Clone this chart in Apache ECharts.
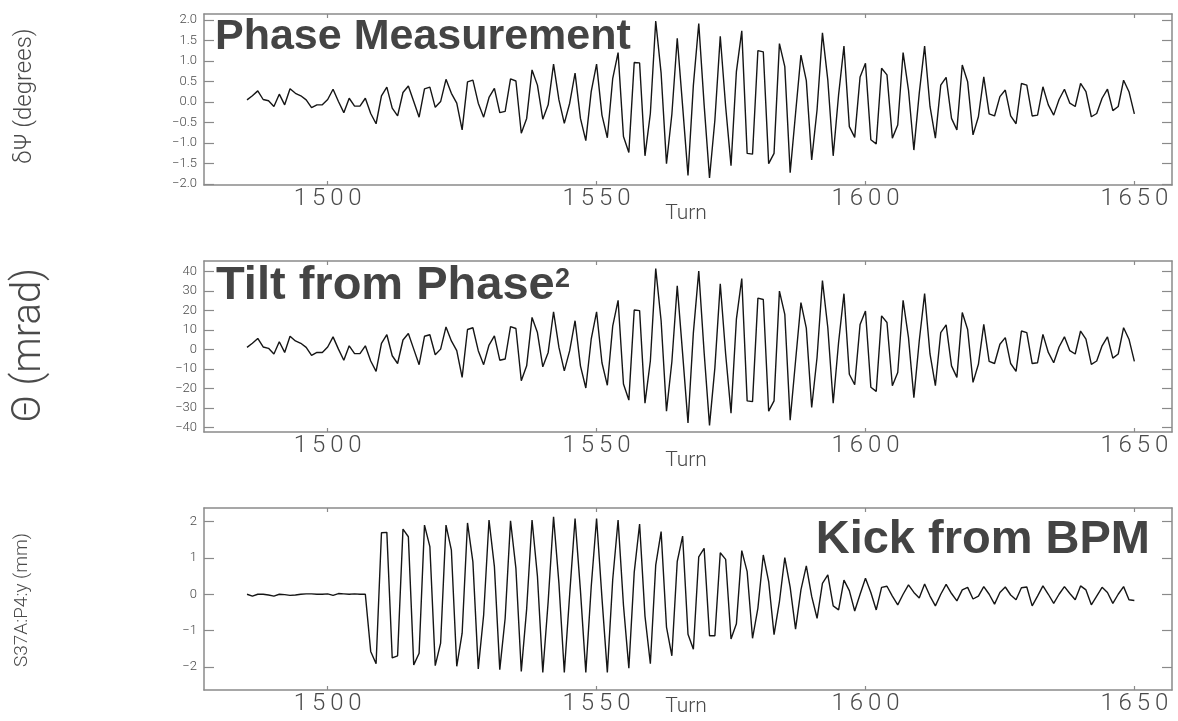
<!DOCTYPE html>
<html>
<head>
<meta charset="utf-8">
<script src="https://cdn.jsdelivr.net/npm/echarts@6/dist/echarts.min.js"></script>
<style>
html,body{margin:0;padding:0;background:#fff;}
#c{width:1178px;height:721px;}
</style>
</head>
<body>
<div id="c"></div>
<script>
const turns = [
1485,1486,1487,1488,1489,1490,1491,1492,1493,1494,
1495,1496,1497,1498,1499,1500,1501,1502,1503,1504,
1505,1506,1507,1508,1509,1510,1511,1512,1513,1514,
1515,1516,1517,1518,1519,1520,1521,1522,1523,1524,
1525,1526,1527,1528,1529,1530,1531,1532,1533,1534,
1535,1536,1537,1538,1539,1540,1541,1542,1543,1544,
1545,1546,1547,1548,1549,1550,1551,1552,1553,1554,
1555,1556,1557,1558,1559,1560,1561,1562,1563,1564,
1565,1566,1567,1568,1569,1570,1571,1572,1573,1574,
1575,1576,1577,1578,1579,1580,1581,1582,1583,1584,
1585,1586,1587,1588,1589,1590,1591,1592,1593,1594,
1595,1596,1597,1598,1599,1600,1601,1602,1603,1604,
1605,1606,1607,1608,1609,1610,1611,1612,1613,1614,
1615,1616,1617,1618,1619,1620,1621,1622,1623,1624,
1625,1626,1627,1628,1629,1630,1631,1632,1633,1634,
1635,1636,1637,1638,1639,1640,1641,1642,1643,1644,
1645,1646,1647,1648,1649,1650];

const phaseDeg = [
0.05,0.15,0.27,0.06,0.03,-0.11,0.19,-0.07,0.32,0.21,
0.15,0.05,-0.14,-0.07,-0.07,0.06,0.31,0.01,-0.26,0.09,
-0.10,-0.10,0.09,-0.28,-0.53,0.15,0.36,-0.15,-0.34,0.23,
0.39,0.01,-0.37,0.32,0.36,-0.13,0.01,0.55,0.21,-0.03,
-0.68,0.49,0.53,-0.03,-0.37,0.11,0.33,-0.26,-0.23,0.56,
0.51,-0.76,-0.40,0.78,0.41,-0.42,-0.07,0.92,0.05,-0.52,
-0.03,0.70,-0.40,-0.94,0.25,0.92,-0.32,-0.87,0.57,1.20,
-0.84,-1.23,0.96,0.95,-1.31,-0.28,1.97,0.70,-1.50,-0.30,
1.55,-0.10,-1.79,0.41,1.91,-0.07,-1.85,-0.44,1.60,-0.11,
-1.55,0.74,1.73,-1.25,-1.27,1.25,1.22,-1.50,-1.25,1.42,
0.86,-1.72,-0.28,1.14,0.52,-1.41,-0.19,1.68,0.53,-1.31,
0.17,1.36,-0.60,-0.86,0.61,0.94,-0.92,-1.02,0.82,0.66,
-0.88,-0.56,1.20,0.29,-1.17,0.21,1.36,-0.11,-0.88,0.41,
0.60,-0.40,-0.68,0.90,0.49,-0.80,-0.36,0.61,-0.29,-0.34,
0.13,0.29,-0.34,-0.53,0.45,0.41,-0.34,-0.32,0.37,-0.07,
-0.32,0.06,0.31,-0.03,-0.11,0.45,0.25,-0.36,-0.28,0.09,
0.31,-0.21,-0.11,0.53,0.25,-0.29];

const tiltMrad = [
1.1,3.2,5.7,1.3,0.6,-2.3,4.0,-1.5,6.8,4.4,
3.2,1.1,-3.0,-1.5,-1.5,1.3,6.5,0.2,-5.5,1.9,
-2.1,-2.1,1.9,-5.9,-11.2,3.2,7.6,-3.2,-7.2,4.9,
8.2,0.2,-7.8,6.8,7.6,-2.7,0.2,11.6,4.4,-0.6,
-14.3,10.3,11.2,-0.6,-7.8,2.3,7.0,-5.5,-4.9,11.8,
10.8,-16.0,-8.4,16.5,8.7,-8.9,-1.5,19.4,1.1,-11.0,
-0.6,14.8,-8.4,-19.8,5.3,19.4,-6.8,-18.4,12.0,25.3,
-17.7,-26.0,20.3,20.0,-27.6,-5.9,41.6,14.8,-31.7,-6.3,
32.7,-2.1,-37.8,8.7,40.3,-1.5,-39.0,-9.3,33.8,-2.3,
-32.7,15.6,36.5,-26.4,-26.8,26.4,25.7,-31.7,-26.4,30.0,
18.1,-36.3,-5.9,24.1,11.0,-29.8,-4.0,35.4,11.2,-27.6,
3.6,28.7,-12.7,-18.1,12.9,19.8,-19.4,-21.5,17.3,13.9,
-18.6,-11.8,25.3,6.1,-24.7,4.4,28.7,-2.3,-18.6,8.7,
12.7,-8.4,-14.3,19.0,10.3,-16.9,-7.6,12.9,-6.1,-7.2,
2.7,6.1,-7.2,-11.2,9.5,8.7,-7.2,-6.8,7.8,-1.5,
-6.8,1.3,6.5,-0.6,-2.3,9.5,5.3,-7.6,-5.9,1.9,
6.5,-4.4,-2.3,11.2,5.3,-6.1];

const kickMm = [
0.00,-0.05,0.00,0.00,-0.02,-0.05,0.00,-0.01,-0.03,-0.02,
0.00,0.01,0.01,0.00,0.00,0.01,-0.03,0.02,0.01,0.00,
0.01,0.00,0.00,-1.57,-1.91,1.69,1.70,-1.75,-1.69,1.79,
1.58,-1.94,-1.62,1.90,1.31,-1.96,-1.34,1.90,1.21,-1.98,
-1.07,1.96,0.89,-2.05,-0.57,2.04,0.76,-2.07,-0.66,2.02,
0.71,-2.12,-0.40,2.04,0.50,-2.15,-0.20,2.13,0.30,-2.15,
0.00,2.08,0.10,-2.15,0.20,2.08,-0.10,-2.15,0.40,2.04,
-0.30,-2.03,0.60,1.93,-0.60,-1.91,0.80,1.72,-0.90,-1.69,
0.90,1.60,-1.10,-1.51,1.03,1.26,-1.14,-1.14,1.14,0.96,
-1.23,-0.81,1.20,0.62,-1.21,-0.38,1.08,0.35,-1.11,-0.20,
1.01,0.19,-0.96,0.12,0.78,-0.06,-0.66,0.30,0.53,-0.32,
-0.43,0.39,0.10,-0.46,0.00,0.44,0.05,-0.43,0.19,0.22,
-0.05,-0.29,0.00,0.26,0.05,-0.10,0.28,-0.05,-0.32,0.00,
0.27,0.02,-0.18,0.12,0.19,-0.13,-0.05,0.21,0.00,-0.27,
0.05,0.20,-0.02,-0.15,0.18,0.20,-0.32,-0.05,0.23,0.00,
-0.25,0.00,0.21,0.02,-0.15,0.23,0.12,-0.29,-0.05,0.19,
0.05,-0.25,0.00,0.21,-0.15,-0.17];

const xTicks = [1500, 1550, 1600, 1650];
const phaseTicks = [-2, -1.5, -1, -0.5, 0, 0.5, 1, 1.5, 2];
const tiltTicks = [-40, -30, -20, -10, 0, 10, 20, 30, 40];
const kickTicks = [-2, -1, 0, 1, 2];

const titles = ['Phase Measurement', 'Tilt from Phase', 'Kick from BPM'];
const superscript = '2';
const yNames = ['\u03B4\u03A8 (degrees)', '\u0398 (mrad)', 'S37A:P4:y (mm)'];
const xName = 'Turn';

const FRAME = '#8a8a8a';
const TXT = '#4a4a4a';
const THIN = 'Roboto';

const grids = [
  {left: 204, top: 14, width: 968, height: 171},
  {left: 204, top: 261, width: 968, height: 171},
  {left: 204, top: 508, width: 968, height: 182}
];
const yRanges = [[-2.02, 2.14], [-42.4, 45.5], [-2.63, 2.37]];
const yTickSets = [phaseTicks, tiltTicks, kickTicks];
const yFmt = [
  v => (v < 0 ? '\u2212' : '') + Math.abs(v).toFixed(1),
  v => (v < 0 ? '\u2212' : '') + Math.abs(v).toFixed(0),
  v => (v < 0 ? '\u2212' : '') + Math.abs(v).toFixed(0)
];
const seriesVals = [phaseDeg, tiltMrad, kickMm];

const xAxes = [], yAxes = [], series = [];
for (let i = 0; i < 3; i++) {
  const base = {
    type: 'value', gridIndex: i, min: 1477, max: 1657,
    splitLine: {show: false},
    axisLine: {show: true, onZero: false, lineStyle: {color: FRAME, width: 1.5}},
    axisTick: {show: true, inside: true, length: 4, customValues: xTicks, lineStyle: {color: FRAME, width: 1.2}}
  };
  xAxes.push(Object.assign({}, base, {
    position: 'bottom',
    axisLabel: {show: true, customValues: xTicks, margin: 2, color: TXT, fontFamily: THIN, fontWeight: 300, fontSize: 24,
      formatter: v => String(v).split('').join('\u2009')}
  }));
  xAxes.push(Object.assign({}, base, {position: 'top', axisLabel: {show: false}}));
  const yb = {
    type: 'value', gridIndex: i, min: yRanges[i][0], max: yRanges[i][1],
    splitLine: {show: false},
    axisLine: {show: true, onZero: false, lineStyle: {color: FRAME, width: 1.5}},
    axisTick: {show: true, inside: true, length: 10, customValues: yTickSets[i], lineStyle: {color: FRAME, width: 1.2}}
  };
  yAxes.push(Object.assign({}, yb, {
    position: 'left',
    axisLabel: {show: true, customValues: yTickSets[i], margin: 7, color: TXT, fontFamily: THIN, fontWeight: 300, fontSize: 13,
      formatter: yFmt[i]}
  }));
  yAxes.push(Object.assign({}, yb, {position: 'right', axisLabel: {show: false}}));
  series.push({
    type: 'line', xAxisIndex: i * 2, yAxisIndex: i * 2,
    data: turns.map((t, k) => [t, seriesVals[i][k]]),
    symbol: 'none', silent: true,
    lineStyle: {color: '#151515', width: 1.4}
  });
}

const graphic = [
  {type: 'text', left: 215, top: 16, style: {text: titles[0], font: 'bold 43px "Liberation Sans", Arial, sans-serif', fill: '#444'}},
  {type: 'text', left: 216, top: 263, style: {text: titles[1], font: 'bold 47px "Liberation Sans", Arial, sans-serif', fill: '#444'}},
  {type: 'text', left: 555, top: 266, style: {text: superscript, font: 'bold 27px "Liberation Sans", Arial, sans-serif', fill: '#444'}},
  {type: 'text', right: 28, top: 517, style: {text: titles[2], font: 'bold 47px "Liberation Sans", Arial, sans-serif', fill: '#444'}},
  {type: 'text', x: 25, y: 96, rotation: Math.PI / 2, style: {text: yNames[0], font: '300 24px Roboto', fill: TXT, align: 'center', verticalAlign: 'middle'}},
  {type: 'text', x: 30, y: 345, rotation: Math.PI / 2, style: {text: yNames[1], font: '300 40px Roboto', fill: TXT, align: 'center', verticalAlign: 'middle'}},
  {type: 'text', x: 22, y: 600, rotation: Math.PI / 2, style: {text: yNames[2], font: '300 19px Roboto', fill: TXT, align: 'center', verticalAlign: 'middle'}},
  {type: 'text', x: 686, y: 214, style: {text: xName, font: '300 21px Roboto', fill: TXT, align: 'center', verticalAlign: 'middle'}},
  {type: 'text', x: 686, y: 461, style: {text: xName, font: '300 21px Roboto', fill: TXT, align: 'center', verticalAlign: 'middle'}},
  {type: 'text', x: 686, y: 707, style: {text: xName, font: '300 21px Roboto', fill: TXT, align: 'center', verticalAlign: 'middle'}}
];

const chart = echarts.init(document.getElementById('c'), null, {renderer: 'canvas'});
chart.setOption({
  animation: false,
  backgroundColor: '#fff',
  grid: grids,
  xAxis: xAxes,
  yAxis: yAxes,
  series: series,
  graphic: graphic
});
</script>
</body>
</html>
